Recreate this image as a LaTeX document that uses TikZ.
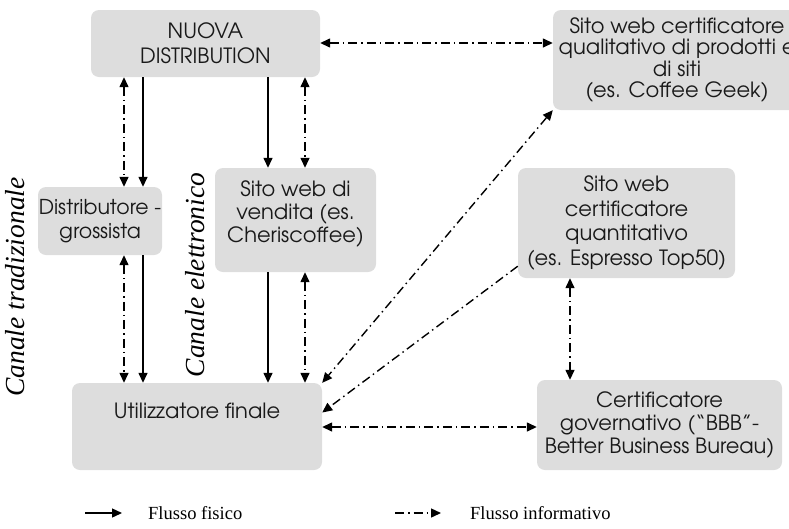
\documentclass[tikz,border=0pt]{standalone}
\usepackage{fontspec}
\setmainfont{Liberation Serif}
\newfontfamily\cgfont{texgyreadventor-regular.otf}
\usetikzlibrary{arrows.meta}
\definecolor{boxgray}{RGB}{221,221,221}
\definecolor{txt}{RGB}{25,25,25}
\begin{document}
\begin{tikzpicture}[x=1pt,y=-1pt,
  box/.style={fill=boxgray, rounded corners=8pt, align=center, text=txt,
    font=\cgfont\fontsize{21}{23}\selectfont, inner sep=0pt},
  phys/.style={line width=1.4pt, -{Triangle[length=10pt,width=9pt]}},
  info/.style={line width=1.4pt, dash pattern=on 9pt off 4pt on 1.5pt off 4pt,
    {Triangle[length=10pt,width=9pt]}-{Triangle[length=10pt,width=9pt]}},
  infoone/.style={line width=1.4pt, dash pattern=on 9pt off 4pt on 1.5pt off 4pt,
    -{Triangle[length=10pt,width=9pt]}},
  canale/.style={font=\fontsize{27.5}{30}\selectfont\itshape, rotate=90, inner sep=0pt},
  legend/.style={font=\fontsize{18.5}{22}\selectfont, anchor=west, inner sep=0pt}
]
\useasboundingbox (0,0) rectangle (789,528);
\clip (0,0) rectangle (789,528);

% boxes
\node[box, font=\cgfont\fontsize{21}{25}\selectfont, minimum width=229pt, minimum height=67pt]
  (nuova) at (205.5,43.5) {NUOVA\\DISTRIBUTION};
\node[box, font=\cgfont\fontsize{21}{21.5}\selectfont, minimum width=248pt, minimum height=100pt] (qual) at (677,60)
  {Sito web certificatore\\qualitativo di prodotti e\\di siti\\(es. Coffee Geek)};
\node[box, font=\cgfont\fontsize{20.5}{24}\selectfont, minimum width=124pt, minimum height=68pt]
  (distr) at (100,221) {Distributore -\\grossista};
\node[box, minimum width=161pt, minimum height=104pt, text depth=16pt]
  (vend) at (295.5,220) {Sito web di\\vendita (es.\\Cheriscoffee)};
\node[box, font=\cgfont\fontsize{21}{24.5}\selectfont, minimum width=217pt, minimum height=110pt]
  (quant) at (626.5,223)
  {Sito web\\certificatore\\quantitativo\\(es. Espresso Top50)};
\node[box, minimum width=250pt, minimum height=87pt, text height=15pt, text depth=31pt]
  (util) at (197,426.5) {Utilizzatore finale};
\node[box, minimum width=245pt, minimum height=90pt] (cert) at (659.5,425)
  {Certificatore\\governativo (“BBB”-\\Better Business Bureau)};

% side labels
\node[canale] (lt) at (15,287) {Canale tradizionale};
\node[canale] (le) at (195,275) {Canale elettronico};

% x / y positions of straight connectors
\coordinate (xa) at (124,0);
\coordinate (xb) at (143,0);
\coordinate (xc) at (268,0);
\coordinate (xd) at (305,0);
\coordinate (xe) at (570,0);
\coordinate (ya) at (0,43);
\coordinate (yb) at (0,427);

% traditional channel
\draw[info] (nuova.south -| xa) -- (distr.north -| xa);
\draw[phys] (nuova.south -| xb) -- (distr.north -| xb);
\draw[info] (distr.south -| xa) -- (util.north -| xa);
\draw[phys] (distr.south -| xb) -- (util.north -| xb);

% electronic channel
\draw[phys] (nuova.south -| xc) -- (vend.north -| xc);
\draw[info] (nuova.south -| xd) -- (vend.north -| xd);
\draw[phys] (vend.south -| xc) -- (util.north -| xc);
\draw[info] (vend.south -| xd) -- (util.north -| xd);

% certifiers
\draw[info] (nuova.east |- ya) -- (qual.west |- ya);
\draw[info] (qual.south west) -- (util.north east);
\coordinate (qs) at ([yshift=12pt]quant.south west);
\coordinate (ue) at ([yshift=14pt]util.east);
\draw[infoone] (qs) -- (ue);
\draw[info] (quant.south -| xe) -- (cert.north -| xe);
\draw[info] (util.east |- yb) -- (cert.west |- yb);

% legend
\coordinate (l1a) at (85,513);
\coordinate (l1b) at (122,513);
\coordinate (l2a) at (395,513);
\coordinate (l2b) at (441,513);
\draw[phys] (l1a) -- (l1b);
\node[legend] (lf) at (148,513) {Flusso fisico};
\draw[infoone] (l2a) -- (l2b);
\node[legend] (li) at (470,513) {Flusso informativo};
\end{tikzpicture}
\end{document}
